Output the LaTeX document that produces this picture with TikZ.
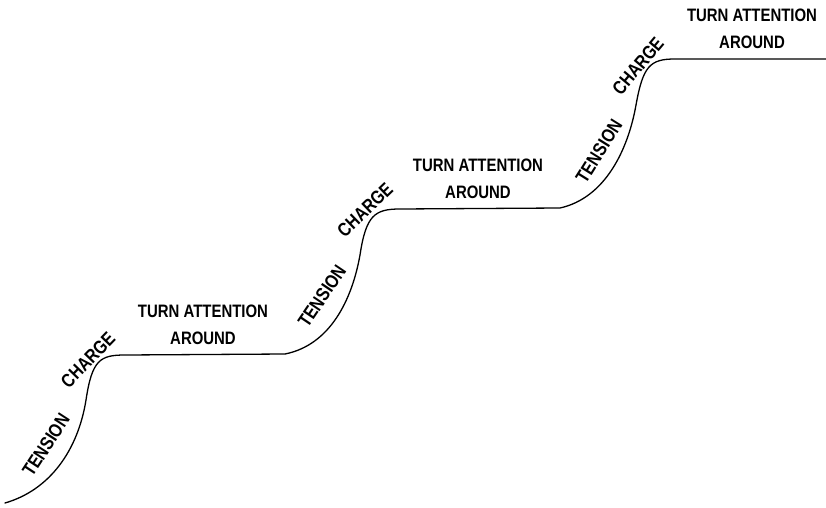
\documentclass[tikz,border=0pt]{standalone}
\usepackage{fontspec}
\setmainfont{Liberation Sans}[FakeStretch=0.83]
\usepackage{tikz}
\usetikzlibrary{positioning}

\begin{document}
\begin{tikzpicture}[
  x=1pt, y=1pt,
  stair/.style={line width=1.3pt, line cap=round},
  phase/.style={font=\fontsize{19}{27}\selectfont\bfseries, inner sep=0pt},
  plateau/.style={font=\fontsize{18}{27}\selectfont\bfseries, inner sep=0pt,
                  align=center}
]
\useasboundingbox (0,0) rectangle (826,507);

% the rising curve
\coordinate (s0) at (5,4);
\coordinate (f1) at (125,152);
\coordinate (e1) at (285,153);
\coordinate (f2) at (400,298);
\coordinate (e2) at (560,299);
\coordinate (f3) at (675,448);
\coordinate (e3) at (826,448);
\draw[stair] (s0) .. controls (50,17) and (78,57) .. (86,107)
  .. controls (92,147) and (100,152) .. (f1) -- (e1)
  .. controls (330,162) and (352,207) .. (360,252)
  .. controls (366,292) and (375,298) .. (f2) -- (e2)
  .. controls (605,309) and (628,357) .. (636,402)
  .. controls (643,441) and (650,448) .. (f3) -- (e3);

% first step
\node[phase, rotate=57] (tens1) at (46,62) {TENSION};
\node[phase, rotate=46] (chg1) at (88,147) {CHARGE};
\node[plateau] (turn1) at (203,182) {TURN ATTENTION\\AROUND};

% second step
\node[phase, rotate=56] (tens2) at (322,211) {TENSION};
\node[phase, rotate=44] (chg2) at (365,297) {CHARGE};
\node[plateau] (turn2) at (478,328) {TURN ATTENTION\\AROUND};

% third step
\node[phase, rotate=58] (tens3) at (599,356) {TENSION};
\node[phase, rotate=50] (chg3) at (638,441) {CHARGE};
\node[plateau] (turn3) at (752,478) {TURN ATTENTION\\AROUND};
\end{tikzpicture}
\end{document}
